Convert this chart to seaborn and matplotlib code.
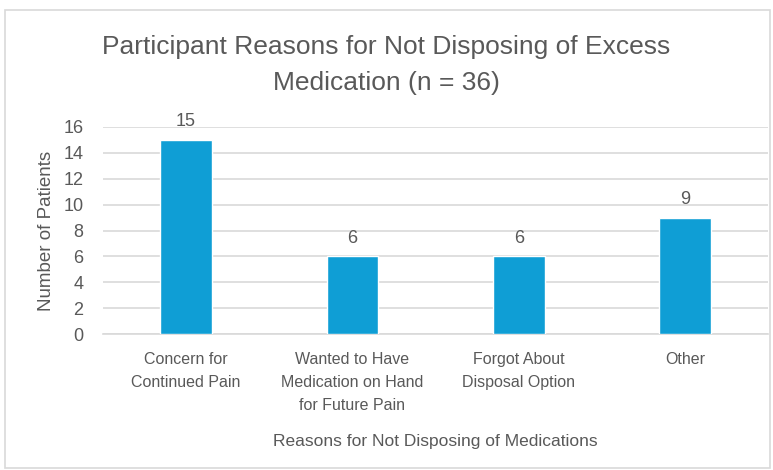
import matplotlib
matplotlib.use("Agg")
import matplotlib.pyplot as plt
import seaborn as sns
import pandas as pd
from matplotlib.patches import Rectangle

# Datos del gráfico
reasons = ["Concern for\nContinued Pain",
           "Wanted to Have\nMedication on Hand\nfor Future Pain",
           "Forgot About\nDisposal Option",
           "Other"]
patients = [15, 6, 6, 9]

df = pd.DataFrame({"Reason": reasons, "Patients": patients})

sns.set_theme(style="white")
plt.rcParams['font.family'] = ['Liberation Sans', 'DejaVu Sans']

text_gray = "#595959"
grid_gray = "#D9D9D9"
bar_blue = "#0F9ED5"

fig = plt.figure(figsize=(7.73, 4.70), dpi=100)
ax = fig.add_axes([0.133, 0.289, 0.861, 0.441])

sns.barplot(data=df, x="Reason", y="Patients", color=bar_blue, width=0.31,
            saturation=1, ax=ax, zorder=3)

ax.set_ylim(0, 16)
ax.set_yticks(range(0, 17, 2))
ax.yaxis.grid(True, color=grid_gray, linewidth=1.2, zorder=0)
ax.set_axisbelow(True)
for s in ["top", "right", "left"]:
    ax.spines[s].set_visible(False)
ax.spines["bottom"].set_color(grid_gray)
ax.spines["bottom"].set_linewidth(1.2)

ax.tick_params(axis="y", length=0, pad=14, labelsize=13, colors=text_gray)
ax.tick_params(axis="x", length=0, pad=13, colors=text_gray)
for lab in ax.get_xticklabels():
    lab.set_fontsize(11.5)
    lab.set_linespacing(1.65)
    lab.set_verticalalignment("top")

# Etiquetas de datos
for cont in ax.containers:
    ax.bar_label(cont, padding=7, fontsize=13, color=text_gray)

ax.set_xlabel("Reasons for Not Disposing of Medications", fontsize=12.5,
              color=text_gray, labelpad=15)
ax.set_ylabel("Number of Patients", fontsize=13.5, color=text_gray, labelpad=6)

fig.suptitle("Participant Reasons for Not Disposing of Excess\nMedication (n = 36)",
             fontsize=19, color=text_gray, y=0.925, linespacing=1.6)

# Borde del área del gráfico
fig.patches.append(Rectangle((0.006, 0.005), 0.99, 0.974, transform=fig.transFigure,
                             fill=False, edgecolor=grid_gray, linewidth=1.2))

fig.savefig("out.png", dpi=100)
